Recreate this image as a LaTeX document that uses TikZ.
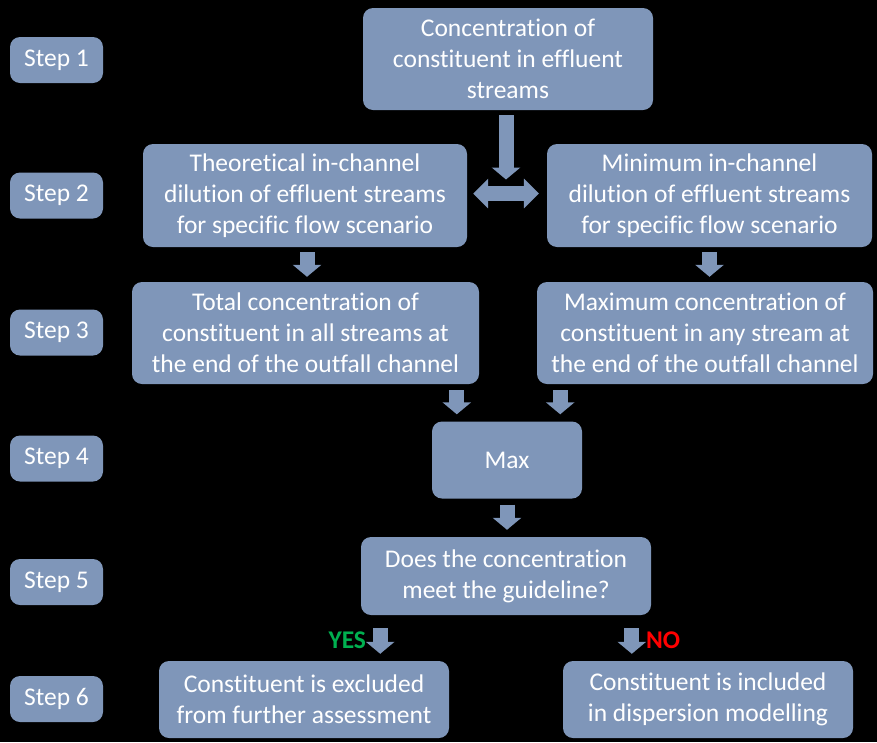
\documentclass[tikz,border=0pt]{standalone}
\usepackage{fontspec}
\setmainfont[Ligatures=CommonOff]{Carlito}
\usetikzlibrary{%
  arrows.meta,%
  calc,%
  positioning% wg. " of "
}
\definecolor{boxblue}{RGB}{127,150,185}
\definecolor{yesgreen}{RGB}{0,176,80}

\begin{document}
\begin{tikzpicture}
[x=1pt, y=-1pt, font=\fontsize{25.5}{31}\selectfont, text=white,
box/.style={rectangle, rounded corners=10pt, fill=boxblue, align=center, inner sep=0pt},
stepbox/.style={box, minimum width=93pt, minimum height=46pt},
blk/.style={draw=boxblue, line width=15pt, -{Triangle[width=28pt,length=12pt]}},
dblk/.style={draw=boxblue, line width=15pt, {Triangle[width=29pt,length=15pt]}-{Triangle[width=29pt,length=15pt]}}]

\fill[black] (0,0) rectangle (877,742);
\useasboundingbox (0,0) rectangle (877,742);

\foreach \s/\y in {1/60, 2/195.5, 3/332.5, 4/458.5, 5/582, 6/699} {
  \node[stepbox] (step\s) at (56.5,\y) {Step~\s};
}

\node[box, minimum width=290pt, minimum height=102pt] (conc) at (508,59)
  {Concentration of\\constituent in effluent\\streams};

\node[box, minimum width=324pt, minimum height=103pt] (theor) at (305,195.5)
  {Theoretical in-channel\\dilution of effluent streams\\for specific flow scenario};
\node[box, minimum width=325pt, minimum height=103pt] (minim) at (709.5,195.5)
  {Minimum in-channel\\dilution of effluent streams\\for specific flow scenario};

\node[box, minimum width=347pt, minimum height=102pt] (total) at (305.5,333)
  {Total concentration of\\constituent in all streams at\\the end of the outfall channel};
\node[box, minimum width=336pt, minimum height=102pt] (maxconc) at (705,333)
  {Maximum concentration of\\constituent in any stream at\\the end of the outfall channel};

\node[box, minimum width=150pt, minimum height=77pt] (max) at (507,460) {Max};

\node[box, minimum width=290pt, minimum height=78pt] (guide) at (506,576)
  {Does the concentration\\meet the guideline?};

\node[box, minimum width=290pt, minimum height=77pt] (excl) at (304,699.5)
  {Constituent is excluded\\from further assessment};
\node[box, minimum width=290pt, minimum height=77pt] (incl) at (708,699.5)
  {Constituent is included\\in dispersion modelling};

\coordinate (split) at (506,193.5);
\coordinate (maxL) at ([xshift=25pt]max.north west);
\coordinate (maxR) at ([xshift=-22pt]max.north east);
\coordinate (yesx) at ([xshift=-69pt]excl.north east);
\coordinate (nox) at ([xshift=69pt]incl.north west);

\draw[blk, shorten <=5pt, shorten >=14pt] (conc.south -| split) -- (split);
\draw[dblk, shorten <=6pt, shorten >=8pt] (theor.east |- split) -- (minim.west |- split);

\draw[blk, shorten <=5pt, shorten >=5pt] (theor.south -| 307,0) -- (total.north -| 307,0);
\draw[blk, shorten <=5pt, shorten >=5pt] (minim.south) -- (minim.south |- maxconc.north);

\draw[blk, shorten <=6pt, shorten >=7pt] (total.south -| maxL) -- (maxL);
\draw[blk, shorten <=6pt, shorten >=7pt] (maxconc.south -| maxR) -- (maxR);

\draw[blk, shorten <=6pt, shorten >=7pt] (max.south) -- (max.south |- guide.north);

\draw[blk, shorten <=13pt, shorten >=7pt] (guide.south -| yesx) -- (yesx);
\draw[blk, shorten <=13pt, shorten >=7pt] (guide.south -| nox) -- (nox);

\node[text=yesgreen, font=\fontsize{25.5}{31}\selectfont\bfseries, left=14pt of yesx, yshift=21pt, inner sep=0pt] (yes) {YES};
\node[text=red, font=\fontsize{25.5}{31}\selectfont\bfseries, right=14pt of nox, yshift=21pt, inner sep=0pt] (no) {NO};
\end{tikzpicture}
\end{document}
